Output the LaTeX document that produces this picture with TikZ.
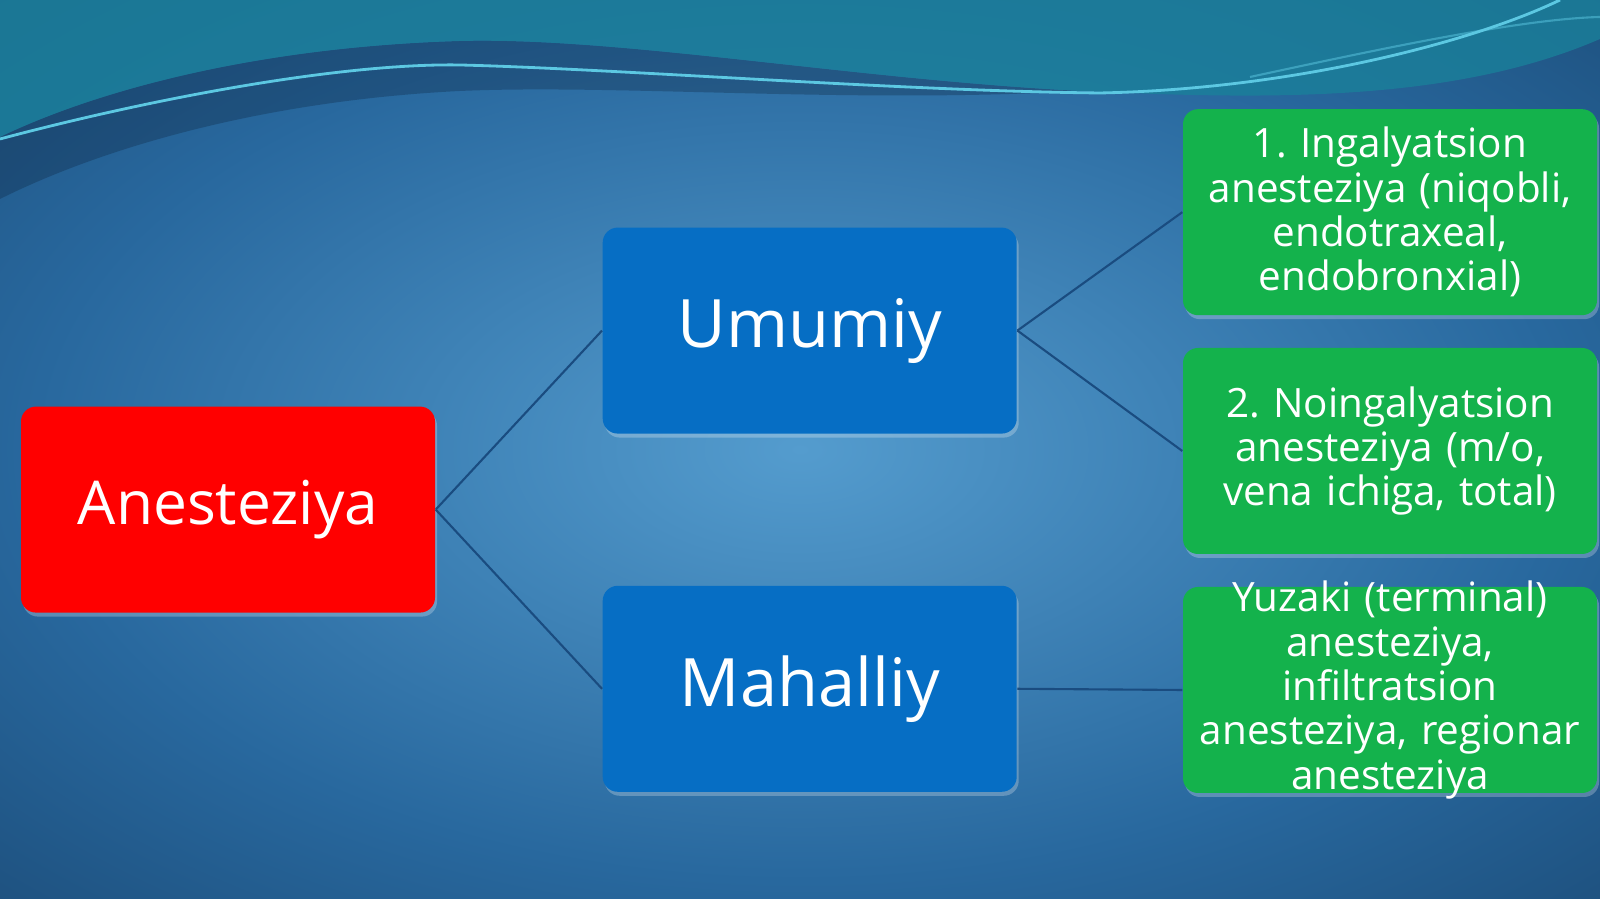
\documentclass[tikz,border=0pt]{standalone}
\usepackage{fontspec}
\setmainfont{Open Sans}
\usetikzlibrary{shadows}
\definecolor{anered}{RGB}{255,0,0}
\definecolor{aneblue}{RGB}{6,110,196}
\definecolor{anegreen}{RGB}{20,178,76}
\definecolor{bglight}{RGB}{84,156,206}
\definecolor{bgmid}{RGB}{40,104,158}
\definecolor{bgedge}{RGB}{20,58,96}
\definecolor{bgdark}{RGB}{12,34,60}
\definecolor{waveteal}{RGB}{26,128,154}
\definecolor{waveline}{RGB}{92,200,226}
\definecolor{linkblue}{RGB}{26,76,128}
\pgfdeclareradialshading{slideglow}{\pgfpoint{0bp}{0bp}}{color(0bp)=(bglight); color(24bp)=(bgmid); color(48bp)=(bgedge); color(71bp)=(bgdark)}

\begin{document}
\frenchspacing
\begin{tikzpicture}[
  box/.style={rectangle, rounded corners=0.15cm, minimum width=4.14cm, minimum height=2.06cm,
    text=white, align=center, drop shadow={shadow xshift=0.02cm, shadow yshift=-0.04cm, fill=white, opacity=0.25}},
  main/.style={font=\fontsize{19}{22}\selectfont},
  sub/.style={font=\fontsize{11.5}{12.6}\selectfont, text width=4.1cm, inner xsep=0pt, inner ysep=0pt}
]
  % Background and wave
  \useasboundingbox (0,0) rectangle (16,8.99);
  \shade[shading=slideglow] (0,0) rectangle (16,8.99);
  \fill[bgdark, opacity=0.3] (0,7.62)
    .. controls (1.0,8.1) and (2.6,8.52) .. (4.6,8.58)
    .. controls (6.2,8.62) and (8.5,8.2) .. (10.8,8.08)
    .. controls (8.5,7.95) and (6.2,8.15) .. (4.6,8.08)
    .. controls (2.6,7.98) and (1.0,7.5) .. (0,7.0) -- cycle;
  \fill[waveteal, opacity=0.8] (0,8.99) -- (16,8.99) -- (16,8.6)
    .. controls (14.5,7.95) and (12.6,8.0) .. (10.8,8.08)
    .. controls (8.5,8.2) and (6.2,8.62) .. (4.6,8.58)
    .. controls (2.6,8.52) and (1.0,8.1) .. (0,7.62) -- cycle;
  \draw[waveline, line width=0.8pt] (0,7.6) .. controls (1.5,8.0) and (3.4,8.36) .. (4.6,8.34)
    .. controls (6.2,8.3) and (9,8.08) .. (11,8.06)
    .. controls (13,8.1) and (14.8,8.6) .. (15.6,8.99);
  \draw[waveline, opacity=0.5, line width=0.6pt] (12.5,8.22) .. controls (13.8,8.5) and (15.2,8.8) .. (16,8.82);

  % Boxes
  \node[box, fill=anered, font=\fontsize{17.2}{20}\selectfont] (anest) at (2.28,3.894) {Anesteziya};
  \node[box, fill=aneblue, main] (umumiy) at (8.097,5.684) {Umumiy};
  \node[box, fill=aneblue, main] (mahal) at (8.097,2.102) {Mahalliy};
  \node[box, fill=anegreen, sub] (ingal) at (13.90,6.868) {1. Ingalyatsion\\anesteziya (niqobli,\\endotraxeal,\\endobronxial)};
  \node[box, fill=anegreen, sub] (noingal) at (13.90,4.48) {2. Noingalyatsion\\anesteziya (m/o,\\vena ichiga, total)};
  \node[box, fill=anegreen] (yuzaki) at (13.90,2.09) {};
  \node[sub, text=white, align=center] (yuzakitext) at (yuzaki.center) {Yuzaki (terminal)\\anesteziya,\\infiltratsion\\anesteziya, regionar\\anesteziya};

  % Connectors
  \draw[linkblue, line width=0.6pt] (anest.east) -- (umumiy.west);
  \draw[linkblue, line width=0.6pt] (anest.east) -- (mahal.west);
  \draw[linkblue, line width=0.6pt] (umumiy.east) -- (ingal.west);
  \draw[linkblue, line width=0.6pt] (umumiy.east) -- (noingal.west);
  \draw[linkblue, line width=0.6pt] (mahal.east) -- (yuzaki.west);
\end{tikzpicture}
\end{document}
